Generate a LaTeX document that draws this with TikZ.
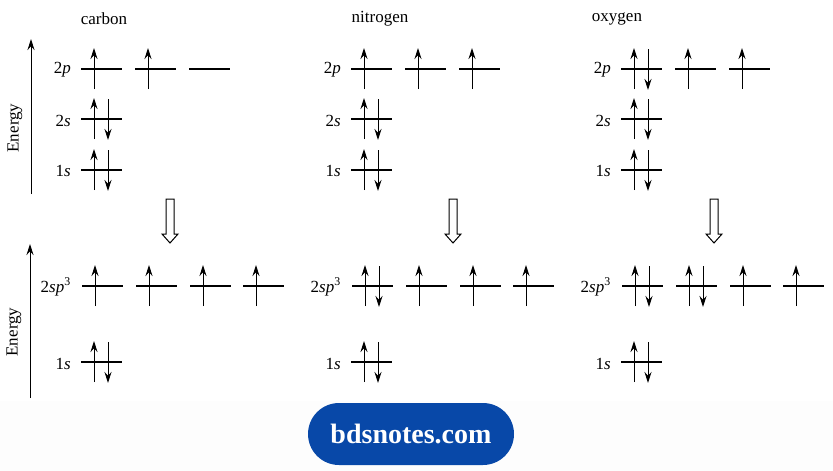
\documentclass[tikz,border=0pt]{standalone}
\usepackage{fontspec}
\setmainfont{Liberation Serif}
\usetikzlibrary{arrows.meta}

\definecolor{pillblue}{RGB}{8,72,168}
\definecolor{footgray}{RGB}{253,253,253}

\tikzset{
  level/.style={line width=1.3pt},
  spin/.style={line width=1pt,-{Stealth[length=11pt,width=7pt]}},
  axis/.style={line width=1pt,-{Stealth[length=11pt,width=7pt]}},
  lbl/.style={font=\fontsize{17}{19}\selectfont,anchor=east,inner sep=0pt},
  title/.style={font=\fontsize{17}{19}\selectfont},
  hollow/.style={line width=1pt,fill=white},
  pill/.style={fill=pillblue,text=white,rounded corners=31pt,minimum width=206pt,
    minimum height=62pt,font=\fontsize{28}{30}\selectfont\bfseries}
}

% orbital line at (x,y) with 0, 1 or 2 electrons
\newcommand{\orb}[3]{%
  \draw[level] (#1,#2) -- +(41,0);
  \ifnum#3>0 \draw[spin] (#1+13,#2+20) -- +(0,-41);\fi
  \ifnum#3>1 \draw[spin] (#1+27,#2-20) -- +(0,41);\fi}

% open arrow between the two levels
\newcommand{\hollowdown}[2]{%
  \draw[hollow] (#1-4,#2) -- (#1+4,#2) -- (#1+4,#2+35) -- (#1+8,#2+35)
    -- (#1,#2+44) -- (#1-8,#2+35) -- (#1-4,#2+35) -- cycle;}

\begin{document}
\begin{tikzpicture}[x=1pt,y=-1pt]
\useasboundingbox (0,0) rectangle (833,471);
\fill[footgray] (0,401) rectangle (833,471);

% energy axes
\coordinate (eTopLow) at (31,194);
\coordinate (eTopHigh) at (31,39);
\coordinate (eBotLow) at (30,398);
\coordinate (eBotHigh) at (30,244);
\draw[axis] (eTopLow) -- (eTopHigh);
\draw[axis] (eBotLow) -- (eBotHigh);
\node[title,rotate=90] (energyTop) at (15,128) {Energy};
\node[title,rotate=90] (energyBot) at (14,332) {Energy};

% atoms: x0 / name / title x / arrow x / 2p electrons / 2sp3 electrons
\foreach \x/\name/\tx/\ax/\pa/\pb/\pc/\qa/\qb/\qc/\qd in
  {81/carbon/104/170/1/1/0/1/1/1/1,
   351/nitrogen/380/453/1/1/1/2/1/1/1,
   621/oxygen/617/714/2/1/1/2/2/1/1}{
  \node[title] (t-\name) at (\tx,19) {\name};
  % ground state
  \node[lbl] (p-\name) at (\x-10,70) {2\textit{p}};
  \node[lbl] (s2-\name) at (\x-10,121) {2\textit{s}};
  \node[lbl] (s1-\name) at (\x-10,171) {1\textit{s}};
  \orb{\x}{69}{\pa}
  \orb{\x+54}{69}{\pb}
  \orb{\x+108}{69}{\pc}
  \orb{\x}{119}{2}
  \orb{\x}{170}{2}
  \hollowdown{\ax}{199}
  % hybridised
  \node[lbl] (sp-\name) at (\x-10,287) {2\textit{sp}\textsuperscript{3}};
  \node[lbl] (h1-\name) at (\x-10,364) {1\textit{s}};
  \orb{\x+1}{286}{\qa}
  \orb{\x+55}{286}{\qb}
  \orb{\x+109}{286}{\qc}
  \orb{\x+162}{286}{\qd}
  \orb{\x}{362}{2}
}

\node[pill] (site) at (411,434) {bdsnotes.com};
\end{tikzpicture}
\end{document}
